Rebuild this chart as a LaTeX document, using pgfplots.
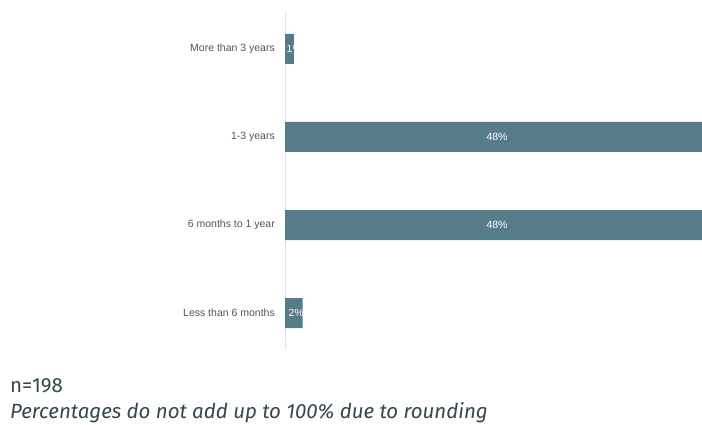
\documentclass[border=0pt]{standalone}
\usepackage{pgfplots}
\pgfplotsset{compat=1.18}
\usepackage{fontspec}
\usepackage{trimclip}
\setmainfont{Liberation Sans}
\newfontfamily\footfont{Fira Sans}
\definecolor{barcol}{HTML}{567B89}
\definecolor{axcol}{HTML}{D2E5EC}
\definecolor{lblcol}{HTML}{555555}
\definecolor{footcol}{HTML}{34474D}
\begin{document}
\begin{tikzpicture}[x=1bp,y=1bp]
\path[use as bounding box] (0,0) rectangle (702,424);
\clip (0,0) rectangle (702,424);
\begin{axis}[
  at={(285bp,74bp)}, anchor=south west,
  scale only axis, width=424bp, height=338bp,
  xmin=0, xmax=48, ymin=-0.42, ymax=3.42,
  clip=false,
  axis x line=none,
  axis y line*=left,
  y axis line style={draw=axcol, line width=1pt, -},
  ytick={0,1,2,3},
  yticklabels={Less than 6 months, 6 months to 1 year, 1-3 years, More than 3 years},
  ytick style={draw=none},
  yticklabel style={font=\fontsize{10.5bp}{12bp}\selectfont, text=lblcol, anchor=east, inner sep=0pt, xshift=-10bp},
]
\addplot[xbar, bar width=30bp, fill=barcol, draw=none] coordinates {(2,0) (48,1) (48,2) (1,3)};
\addplot[draw=none, mark=none, nodes near coords, point meta=explicit symbolic,
  nodes near coords style={anchor=center, text=white, inner sep=0pt, font=\fontsize{10.5bp}{12bp}\selectfont}]
  coordinates {(24,1)[48\%] (24,2)[48\%]};
\addplot[draw=none, mark=none, nodes near coords, point meta=explicit symbolic,
  nodes near coords style={anchor=west, text=white, inner sep=0pt, font=\fontsize{10.5bp}{12bp}\selectfont}]
  coordinates {(0.4,0)[\clipbox{0pt 0pt 1.5bp 0pt}{2\%}] (0.17,3)[\clipbox{0pt 0pt 8bp 0pt}{1\%}]};
\end{axis}
\node[anchor=base west, inner sep=0pt, text=footcol, font=\footfont\fontsize{20.5bp}{24bp}\selectfont] at (10,32) {n=198};
\node[anchor=base west, inner sep=0pt, text=footcol, font=\footfont\itshape\fontsize{20.5bp}{24bp}\selectfont] at (10,6) {Percentages do not add up to 100\% due to rounding};
\end{tikzpicture}
\end{document}
